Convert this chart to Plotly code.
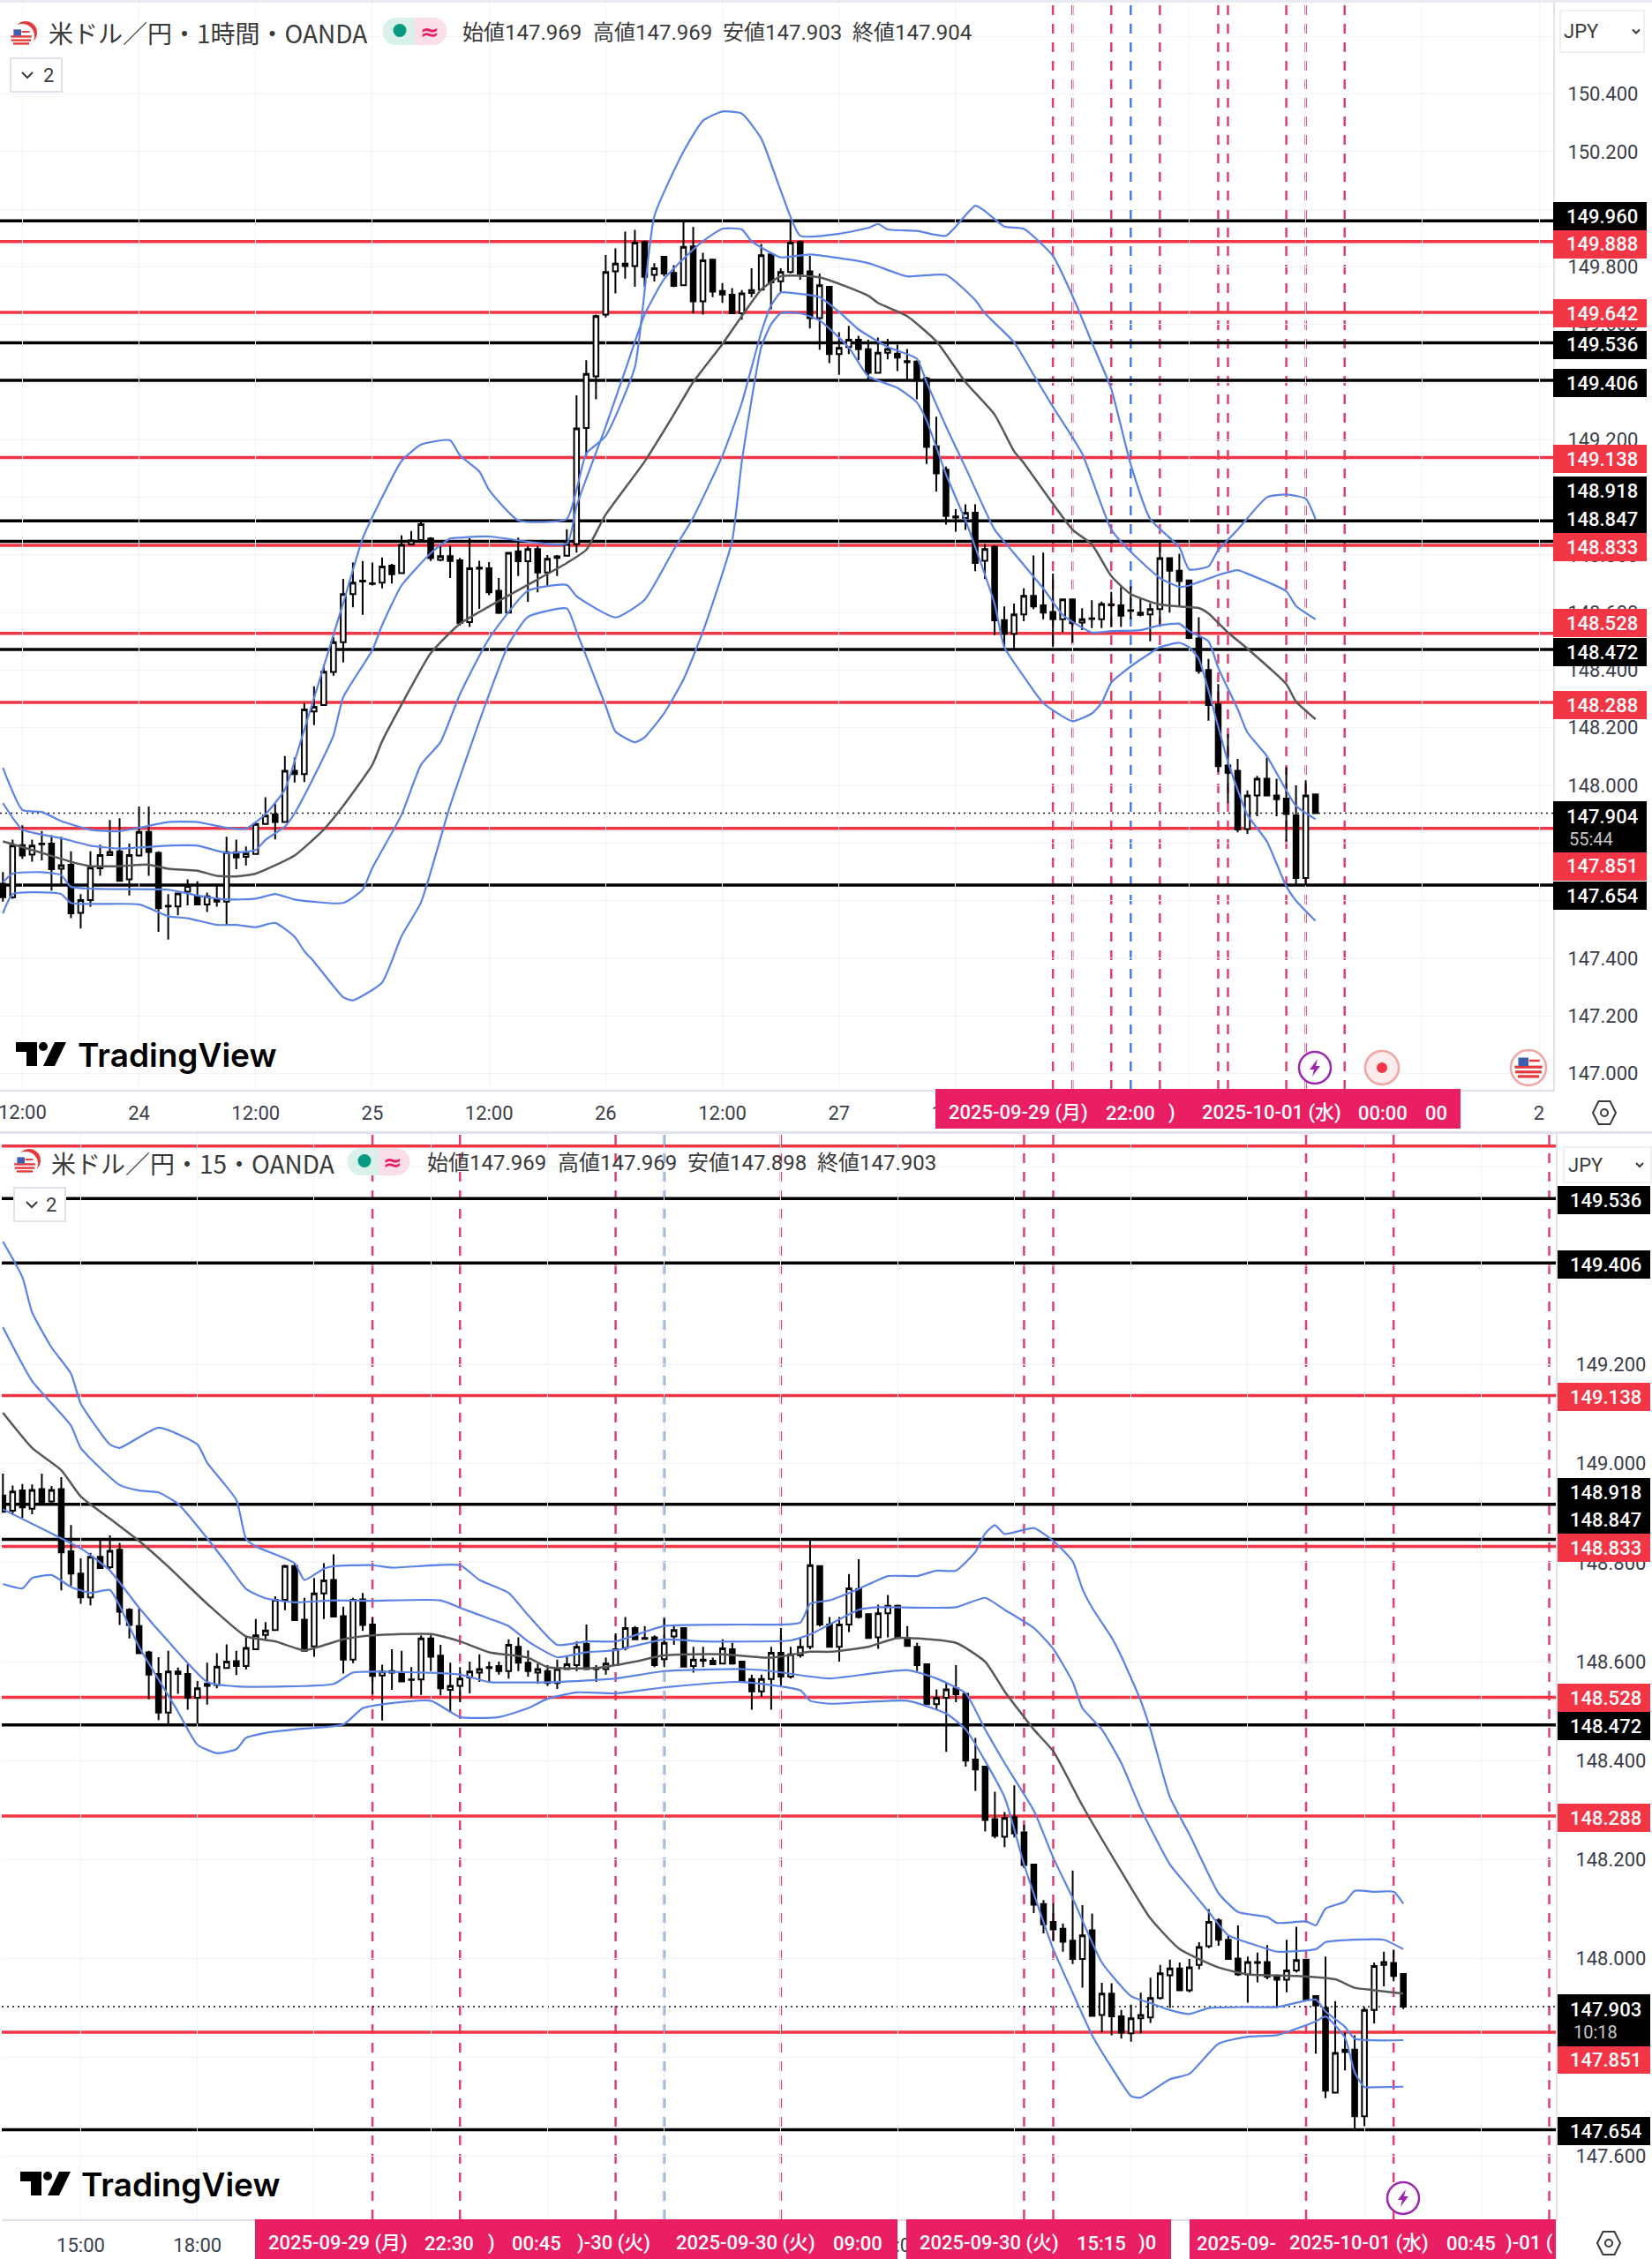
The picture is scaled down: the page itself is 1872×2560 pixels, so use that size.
import plotly.graph_objects as go
from plotly.subplots import make_subplots

# USD/JPY chart pair
W, H = 1872, 2560
FONT = "Roboto, 'Noto Sans CJK JP'"
CJK = "'Noto Sans CJK JP', Roboto"

# --- 1 hour candles
open_1h = [147.659,147.612,147.793,147.760,147.798,147.798,147.711,147.725,147.558,147.602,147.712,147.758,147.771,147.674,147.757,147.839,147.766,147.582,147.580,147.631,
           147.615,147.587,147.607,147.597,147.768,147.752,147.762,147.866,147.900,147.873,148.051,148.039,148.257,148.279,148.394,148.497,148.664,148.711,148.702,148.704,
           148.763,148.737,148.837,148.852,148.857,148.783,148.796,148.781,148.567,148.756,148.754,148.676,148.600,148.813,148.778,148.820,148.739,148.795,148.797,148.838,
           149.241,149.420,149.634,149.784,149.811,149.803,149.886,149.772,149.835,149.779,149.736,149.871,149.680,149.825,149.716,149.703,149.639,149.709,149.721,149.843,
           149.750,149.782,149.886,149.784,149.622,149.731,149.497,149.522,149.547,149.514,149.432,149.502,149.499,149.473,149.471,149.413,149.177,149.096,148.934,148.928,
           148.947,148.780,148.828,148.574,148.526,148.594,148.658,148.625,148.602,148.577,148.646,148.565,148.580,148.577,148.629,148.625,148.608,148.600,148.594,148.612,
           148.789,148.745,148.712,148.510,148.401,148.281,148.069,148.051,147.849,147.965,148.023,147.965,147.954,147.896,147.679,147.969]
high_1h = [147.699,147.812,147.862,147.812,147.842,147.827,147.822,147.771,147.623,147.771,147.794,147.880,147.886,147.798,147.927,147.927,147.771,147.623,147.628,147.674,
           147.667,147.628,147.658,147.822,147.812,147.788,147.868,147.959,147.936,148.102,148.097,148.286,148.344,148.419,148.515,148.717,148.774,148.779,148.774,148.791,
           148.769,148.868,148.883,148.915,148.862,148.837,148.832,148.790,148.858,148.780,148.775,148.720,148.810,148.860,148.830,148.830,148.800,148.800,148.889,149.354,
           149.476,149.634,149.841,149.864,149.922,149.928,149.891,149.813,149.836,149.806,149.959,149.938,149.849,149.828,149.744,149.726,149.719,149.795,149.879,149.846,
           149.795,149.956,149.891,149.838,149.777,149.731,149.573,149.595,149.561,149.547,149.555,149.550,149.530,149.515,149.476,149.418,149.280,149.107,148.959,148.976,
           148.976,148.838,148.833,148.621,148.631,148.684,148.798,148.808,148.735,148.648,148.648,148.615,148.643,148.638,148.672,148.689,148.691,148.648,148.633,148.842,
           148.791,148.804,148.715,148.584,148.439,148.352,148.179,148.092,147.983,148.033,148.097,148.023,148.063,148.000,148.018,147.969]
low_1h = [147.597,147.607,147.745,147.735,147.740,147.635,147.653,147.539,147.503,147.579,147.686,147.758,147.667,147.618,147.753,147.686,147.492,147.465,147.549,147.584,
          147.584,147.561,147.579,147.516,147.709,147.722,147.760,147.866,147.813,147.873,148.010,148.012,148.209,148.279,148.381,148.427,148.618,148.592,148.694,148.684,
          148.701,148.737,148.837,148.850,148.779,148.778,148.720,148.555,148.550,148.613,148.660,148.595,148.600,148.727,148.637,148.670,148.690,148.727,148.797,148.808,
          149.144,149.340,149.624,149.708,149.759,149.731,149.731,149.749,149.767,149.729,149.736,149.639,149.634,149.695,149.675,149.639,149.617,149.695,149.721,149.653,
          149.713,149.777,149.755,149.586,149.512,149.466,149.425,149.497,149.476,149.405,149.432,149.479,149.438,149.405,149.340,149.116,149.020,148.905,148.881,148.887,
          148.744,148.716,148.522,148.472,148.470,148.570,148.612,148.577,148.480,148.531,148.495,148.539,148.546,148.546,148.549,148.550,148.577,148.587,148.500,148.551,
          148.600,148.623,148.508,148.388,148.225,148.046,147.939,147.837,147.832,147.893,147.965,147.893,147.806,147.653,147.653,147.903]
close_1h = [147.612,147.791,147.757,147.791,147.796,147.709,147.723,147.556,147.602,147.715,147.758,147.769,147.669,147.758,147.839,147.769,147.574,147.580,147.625,147.651,
            147.587,147.615,147.597,147.768,147.750,147.764,147.866,147.895,147.873,148.051,148.039,148.264,148.273,148.395,148.497,148.664,148.704,148.708,148.699,148.760,
            148.733,148.835,148.850,148.907,148.789,148.796,148.779,148.564,148.754,148.752,148.670,148.599,148.807,148.778,148.820,148.739,148.787,148.790,148.838,149.239,
            149.428,149.629,149.782,149.811,149.803,149.884,149.765,149.795,149.777,149.734,149.869,149.680,149.823,149.714,149.704,149.639,149.708,149.719,149.840,149.746,
            149.782,149.884,149.777,149.622,149.736,149.497,149.519,149.547,149.514,149.432,149.502,149.515,149.485,149.469,149.405,149.175,149.083,148.935,148.930,148.946,
            148.772,148.820,148.573,148.526,148.594,148.658,148.621,148.600,148.577,148.646,148.563,148.577,148.578,148.630,148.625,148.589,148.606,148.592,148.612,148.789,
            148.745,148.709,148.512,148.398,148.279,148.067,148.044,147.847,147.965,148.023,147.965,147.952,147.901,147.679,147.965,147.904]

# --- 1 hour bollinger lines (bar number, price)
sma_1h_bar = [0,4,7,9,12,15,17,20,22,24,26,30,33,35,38,39,41,44,47,58,60,62,66,69,71,74,76,78,80,84,89,90,93,96,99,102,104,105,110,112,114,116,119,121,123,124,126,128,132,133,135]
sma_1h = [147.806,147.766,147.735,147.720,147.720,147.725,147.711,147.704,147.686,147.684,147.694,147.757,147.847,147.929,148.072,148.153,148.281,148.459,148.561,148.772,148.818,148.940,149.124,149.287,149.400,149.532,149.629,149.721,149.767,149.764,149.700,149.675,149.629,149.542,149.400,149.287,149.160,149.119,148.888,148.837,148.727,148.664,148.628,148.621,148.616,148.597,148.531,148.475,148.352,148.291,148.230]
up2_1h_bar = [0,2,6,9,12,17,20,23,26,27,29,30,32,34,35,38,39,41,44,46,47,50,58,59,62,64,66,68,70,72,74,76,77,80,83,89,93,97,100,101,104,106,108,111,114,116,119,121,122,125,127,128,132,133,135]
up2_1h = [147.939,147.847,147.817,147.791,147.781,147.791,147.791,147.766,147.776,147.811,147.857,147.903,148.031,148.174,148.306,148.470,148.556,148.694,148.806,148.857,148.860,148.864,148.840,148.971,149.246,149.440,149.634,149.757,149.828,149.889,149.932,149.930,149.889,149.833,149.843,149.813,149.767,149.772,149.685,149.639,149.538,149.426,149.314,149.152,148.888,148.811,148.720,148.689,148.694,148.730,148.747,148.735,148.674,148.623,148.577]
up3_1h_bar = [0,2,4,6,9,12,14,17,20,23,25,27,29,31,35,37,39,41,43,46,47,49,50,53,58,59,60,62,65,67,70,72,74,76,78,80,82,86,89,90,91,94,97,100,101,103,105,108,110,112,114,116,118,121,122,124,125,127,130,132,134,135]
up3_1h = [148.061,147.915,147.908,147.876,147.846,147.841,147.853,147.873,147.873,147.853,147.850,147.900,147.986,148.194,148.633,148.857,149.000,149.126,149.183,149.198,149.146,149.090,149.026,148.920,148.925,149.026,149.152,149.213,149.452,149.976,150.200,150.307,150.339,150.332,150.245,150.065,149.908,149.915,149.935,149.949,149.930,149.925,149.908,150.012,149.994,149.940,149.932,149.838,149.700,149.538,149.376,149.114,148.925,148.827,148.750,148.760,148.817,148.888,149.000,149.010,148.995,148.925]
dn2_1h_bar = [0,1,4,6,7,17,20,23,26,28,30,35,37,38,41,43,45,47,50,54,58,59,63,66,69,71,74,76,78,79,80,82,84,86,88,91,94,95,97,99,102,104,107,109,112,114,117,119,121,122,124,125,127,128,130,133,135]
dn2_1h = [147.664,147.694,147.699,147.689,147.648,147.638,147.618,147.604,147.607,147.623,147.604,147.592,147.638,147.714,147.898,148.072,148.150,148.316,148.510,148.676,148.696,148.657,148.583,148.644,148.818,148.930,149.144,149.328,149.573,149.665,149.711,149.706,149.695,149.644,149.583,149.522,149.481,149.400,149.246,149.104,148.888,148.806,148.684,148.592,148.531,148.536,148.539,148.556,148.561,148.536,148.500,148.408,148.265,148.184,148.102,147.929,147.883]
dn3_1h_bar = [0,1,5,6,7,14,17,19,22,24,26,28,30,31,32,35,36,39,41,43,46,50,52,54,58,59,62,63,65,66,68,70,72,75,76,78,79,80,82,84,87,89,92,94,95,97,99,100,102,103,105,107,110,112,113,114,116,118,119,121,122,123,125,126,128,130,132,133,135]
dn3_1h = [147.556,147.623,147.628,147.623,147.592,147.587,147.546,147.539,147.516,147.516,147.508,147.523,147.475,147.425,147.388,147.265,147.254,147.316,147.477,147.594,147.930,148.316,148.489,148.585,148.614,148.534,148.276,148.187,148.150,148.167,148.250,148.368,148.534,148.848,149.124,149.522,149.600,149.639,149.639,149.614,149.520,149.420,149.380,149.330,149.267,149.080,148.920,148.828,148.630,148.480,148.378,148.286,148.223,148.250,148.286,148.357,148.413,148.459,148.480,148.495,148.480,148.440,148.204,148.082,147.898,147.806,147.650,147.600,147.530]

# --- 15 minute candles
open_15m = [148.936,148.905,148.946,148.909,148.949,148.924,148.949,148.823,148.778,148.730,148.812,148.791,148.826,148.705,148.672,148.619,148.575,148.497,148.580,148.575,
            148.527,148.551,148.553,148.587,148.601,148.591,148.625,148.654,148.664,148.725,148.793,148.685,148.631,148.738,148.765,148.692,148.604,148.726,148.675,148.572,
            148.581,148.578,148.564,148.564,148.647,148.612,148.543,148.551,148.568,148.578,148.589,148.591,148.581,148.630,148.598,148.578,148.581,148.557,148.585,148.593,
            148.636,148.587,148.585,148.593,148.628,148.668,148.648,148.649,148.605,148.651,148.668,148.591,148.604,148.602,148.596,148.625,148.600,148.565,148.540,148.565,
            148.618,148.570,148.613,148.630,148.793,148.675,148.630,148.675,148.747,148.696,148.649,148.698,148.713,148.648,148.630,148.595,148.514,148.527,148.546,148.535,
            148.402,148.388,148.282,148.246,148.286,148.255,148.190,148.110,148.074,148.060,148.036,147.999,148.057,147.886,147.929,147.883,147.849,147.879,147.881,147.920,
            147.966,147.980,147.936,147.987,148.025,148.077,148.038,148.000,147.968,147.993,147.993,147.965,147.957,147.976,147.998,147.924,147.900,147.729,147.816,147.816,
            147.681,147.896,147.987,147.991,147.969]
high_15m = [148.980,148.956,148.959,148.958,148.980,148.955,148.973,148.876,148.809,148.820,148.845,148.855,148.840,148.708,148.707,148.622,148.609,148.622,148.588,148.595,
            148.561,148.598,148.617,148.635,148.622,148.652,148.686,148.680,148.732,148.796,148.799,148.729,148.769,148.799,148.817,148.711,148.729,148.739,148.689,148.594,
            148.625,148.622,148.589,148.653,148.653,148.634,148.598,148.589,148.600,148.615,148.600,148.600,148.645,148.649,148.623,148.596,148.593,148.604,148.611,148.641,
            148.675,148.593,148.608,148.657,148.690,148.672,148.672,148.653,148.688,148.675,148.668,148.630,148.630,148.608,148.645,148.638,148.600,148.574,148.574,148.630,
            148.668,148.630,148.649,148.844,148.795,148.690,148.690,148.777,148.807,148.696,148.715,148.735,148.715,148.672,148.638,148.595,148.544,148.559,148.593,148.536,
            148.446,148.389,148.337,148.296,148.350,148.270,148.191,148.118,148.111,148.071,148.178,148.108,148.091,147.951,147.950,147.896,147.907,147.931,147.961,147.987,
            147.998,147.992,147.999,148.033,148.100,148.081,148.047,148.067,148.004,148.012,148.027,147.968,148.038,148.064,147.999,147.925,148.004,147.914,147.850,147.845,
            147.902,147.992,148.014,148.018,147.969]
low_15m = [148.903,148.897,148.891,148.898,148.918,148.919,148.744,148.753,148.717,148.714,148.789,148.787,148.674,148.647,148.617,148.524,148.482,148.475,148.535,148.503,
           148.475,148.513,148.546,148.587,148.573,148.584,148.625,148.642,148.664,148.704,148.684,148.620,148.610,148.686,148.691,148.576,148.597,148.662,148.534,148.481,
           148.543,148.560,148.528,148.533,148.581,148.532,148.497,148.518,148.536,148.559,148.559,148.574,148.566,148.581,148.570,148.555,148.551,148.545,148.585,148.581,
           148.585,148.559,148.574,148.593,148.623,148.645,148.646,148.589,148.589,148.634,148.590,148.578,148.589,148.593,148.596,148.594,148.559,148.503,148.529,148.503,
           148.551,148.566,148.608,148.625,148.671,148.630,148.600,148.660,148.687,148.648,148.626,148.649,148.648,148.630,148.581,148.514,148.503,148.418,148.518,148.388,
           148.339,148.257,148.243,148.225,148.245,148.183,148.092,148.051,148.036,148.014,147.989,147.941,147.884,147.851,147.845,147.838,147.832,147.849,147.870,147.917,
           147.900,147.934,147.932,147.978,148.021,148.026,147.999,147.965,147.911,147.952,147.958,147.900,147.932,147.972,147.916,147.808,147.718,147.729,147.774,147.654,
           147.661,147.869,147.944,147.954,147.898]
close_15m = [148.903,148.944,148.912,148.947,148.919,148.947,148.821,148.778,148.730,148.812,148.789,148.824,148.701,148.674,148.617,148.574,148.497,148.580,148.575,148.527,
             148.546,148.555,148.590,148.600,148.591,148.628,148.653,148.663,148.725,148.793,148.684,148.622,148.738,148.764,148.691,148.604,148.725,148.674,148.571,148.580,
             148.578,148.560,148.563,148.647,148.610,148.546,148.551,148.566,148.580,148.585,148.587,148.581,148.634,148.598,148.581,148.585,148.557,148.585,148.595,148.630,
             148.585,148.585,148.596,148.625,148.668,148.645,148.646,148.593,148.638,148.664,148.590,148.604,148.602,148.595,148.627,148.596,148.559,148.540,148.565,148.618,
             148.570,148.615,148.630,148.795,148.675,148.630,148.675,148.748,148.690,148.648,148.698,148.713,148.648,148.632,148.593,148.514,148.527,148.544,148.534,148.400,
             148.382,148.280,148.248,148.284,148.253,148.189,148.109,148.069,148.059,148.034,147.999,148.047,147.884,147.929,147.883,147.850,147.879,147.886,147.920,147.970,
             147.980,147.936,147.982,148.023,148.074,148.038,147.999,147.968,147.993,147.991,147.963,147.957,147.976,147.997,147.917,147.905,147.733,147.809,147.811,147.681,
             147.896,147.985,147.993,147.965,147.903]

# --- 15 minute bollinger lines
sma_15m_bar = [0,3,6,8,11,14,17,21,25,28,31,35,38,44,47,50,54,56,61,65,68,74,79,83,85,89,92,98,101,103,106,108,111,115,118,121,125,128,133,137,139,141,144]
sma_15m = [149.103,149.032,148.987,148.934,148.889,148.844,148.792,148.717,148.651,148.641,148.623,148.645,148.653,148.656,148.641,148.619,148.608,148.589,148.587,148.600,148.613,148.615,148.608,148.620,148.620,148.630,148.648,148.638,148.600,148.540,148.463,148.419,148.309,148.176,148.081,148.019,147.982,147.968,147.965,147.958,147.941,147.936,147.929]
up2_15m_bar = [0,3,7,8,12,14,16,18,20,23,25,27,30,34,38,45,47,50,52,54,57,60,63,68,72,81,83,85,88,90,98,101,103,106,108,110,111,113,115,117,120,122,124,126,129,131,135,136,139,142,144]
up2_15m = [149.276,149.167,149.077,149.032,148.957,148.946,148.942,148.919,148.874,148.799,148.747,148.728,148.720,148.724,148.723,148.724,148.709,148.687,148.672,148.641,148.609,148.619,148.623,148.645,148.641,148.643,148.655,148.675,148.705,148.710,148.710,148.729,148.705,148.668,148.626,148.559,148.506,148.463,148.395,148.303,148.190,148.142,148.094,148.047,148.026,148.014,148.019,148.033,148.038,148.038,148.019]
up3_15m_bar = [0,2,3,5,7,8,11,12,16,20,21,24,25,26,30,31,33,34,38,40,47,49,52,54,57,60,63,68,76,82,83,85,88,91,94,96,98,100,101,102,103,106,108,110,111,112,114,115,117,118,120,122,125,127,130,131,134,135,136,138,139,141,143,144]
up3_15m = [149.449,149.377,149.306,149.235,149.182,149.122,149.039,149.032,149.073,149.039,149.002,148.927,148.848,148.833,148.799,148.765,148.788,148.793,148.795,148.790,148.795,148.765,148.739,148.694,148.634,148.641,148.641,148.672,148.675,148.679,148.717,148.724,148.747,148.773,148.773,148.784,148.784,148.822,148.859,148.876,148.858,148.870,148.844,148.803,148.747,148.709,148.649,148.611,148.521,148.463,148.326,148.251,148.132,148.094,148.084,148.072,148.075,148.067,148.101,148.115,148.137,148.135,148.135,148.111]
dn2_15m_bar = [0,5,8,11,14,17,21,24,34,36,43,47,50,57,63,68,76,79,83,85,93,96,99,101,103,106,108,110,113,116,118,120,122,124,128,131,135,136,138,139,144]
dn2_15m = [148.908,148.859,148.829,148.784,148.709,148.641,148.559,148.550,148.555,148.578,148.578,148.574,148.559,148.559,148.566,148.581,148.585,148.581,148.570,148.566,148.583,148.566,148.536,148.463,148.395,148.299,148.204,148.122,147.992,147.924,147.910,147.896,147.888,147.900,147.902,147.902,147.917,147.893,147.862,147.838,147.835]
dn3_15m_bar = [0,2,3,5,7,9,11,12,14,18,19,20,22,24,25,27,30,35,37,39,44,47,51,54,56,59,63,68,76,82,83,85,93,97,99,103,105,108,110,112,114,116,117,120,122,125,128,131,135,136,138,139,140,141,144]
dn3_15m = [148.757,148.748,148.769,148.775,148.751,148.739,148.745,148.713,148.630,148.499,148.463,148.432,148.415,148.423,148.446,148.456,148.463,148.473,148.506,148.514,148.521,148.488,148.488,148.506,148.525,148.538,148.536,148.548,148.559,148.542,148.521,148.515,148.521,148.495,148.463,148.326,148.190,148.019,147.931,147.845,147.780,147.722,147.719,147.756,147.767,147.828,147.842,147.845,147.873,147.883,147.840,147.770,147.740,147.740,147.741]

# --- horizontal levels and vertical time marks
black_levels = [149.960, 149.536, 149.406, 148.918, 148.847, 148.472, 147.654]
red_levels = [149.888, 149.642, 149.138, 148.833, 148.528, 148.288, 147.851]
last_1h, last_15m = 147.904, 147.903
red_marks_1h = [108, 110, 114, 119, 125, 126, 132, 134, 138]
blue_marks_1h = [116]
red_marks_15m = [38, 47, 63, 80, 105, 108, 134, 143, 159]
blue_marks_15m = [68]

# --- axis ticks, labels the price tags or boxes fully cover stay empty
price_ticks_1h = [150.6, 150.4, 150.2, 150.0, 149.8, 149.6, 149.4, 149.2, 149.0, 148.8, 148.6, 148.4, 148.2, 148.0, 147.8, 147.6, 147.4, 147.2, 147.0]
price_labels_1h = ["", "150.400", "150.200", "", "149.800", "149.600", "", "149.200", "", "148.800", "148.600", "148.400", "148.200", "148.000", "", "", "147.400", "147.200", "147.000"]
price_ticks_15m = [149.6, 149.4, 149.2, 149.0, 148.8, 148.6, 148.4, 148.2, 148.0, 147.8, 147.6]
price_labels_15m = ["", "", "149.200", "149.000", "148.800", "148.600", "148.400", "148.200", "148.000", "", "147.600"]
time_ticks_1h = [2, 14, 26, 38, 50, 62, 74, 86, 98, 110, 122, 134, 146, 158]
time_labels_1h = ["", "24", "12:00", "25", "12:00", "26", "12:00", "27", "12:00", "", "", "", "", "2"]
time_ticks_15m = [8, 20, 32, 44, 56, 68, 80, 92, 104, 116, 128, 140, 152]
time_labels_15m = ["15:00", "18:00", "", "", "", "", "", "12:00", "", "", "", "", ""]

RED = "#f23645"
PINK = "#e91e63"
BLUE = "#5b82e6"
GRID = "#f0f3fa"
EDGE = "#e0e3eb"
TXT = "#3a3e4a"

fig = make_subplots(rows=2, cols=1)


def xp(x):
    return x / W


def yp(y):
    return 1 - y / H


def pt(x, y):
    return f"{xp(x):.5f},{yp(y):.5f}"


def box(x0, y0, x1, y1, fill, line=None, lw=1):
    fig.add_shape(type="rect", xref="paper", yref="paper", x0=xp(x0), x1=xp(x1), y0=yp(y0), y1=yp(y1),
                  fillcolor=fill, line=dict(color=line or fill, width=lw if line else 0), layer="above")


def circle(cx, cy, rx, fill, line=None, lw=1):
    fig.add_shape(type="circle", xref="paper", yref="paper", x0=xp(cx - rx), x1=xp(cx + rx), y0=yp(cy + rx), y1=yp(cy - rx),
                  fillcolor=fill, line=dict(color=line or fill, width=lw if line else 0), layer="above")


def poly(points, fill=None, line=None, lw=1, closed=True):
    path = "M" + " L".join(pt(x, y) for x, y in points) + (" Z" if closed else "")
    fig.add_shape(type="path", xref="paper", yref="paper", path=path,
                  fillcolor=fill or "rgba(0,0,0,0)", line=dict(color=line or "rgba(0,0,0,0)", width=lw), layer="above")


def label(text, x, y, size=22, color=TXT, anchor="center", family=FONT, weight=None):
    font = dict(size=size, color=color, family=family)
    if weight:
        font["weight"] = weight
    fig.add_annotation(text=text, xref="paper", yref="paper", x=xp(x), y=yp(y), xanchor=anchor, yanchor="middle",
                       showarrow=False, font=font)


def add_candles(row, opens, highs, lows, closes):
    fig.add_trace(go.Candlestick(x=list(range(len(opens))), open=opens, high=highs, low=lows, close=closes, whiskerwidth=0,
                                 increasing=dict(line=dict(color="#000000", width=2), fillcolor="#ffffff"),
                                 decreasing=dict(line=dict(color="#000000", width=2), fillcolor="#000000"),
                                 showlegend=False), row=row, col=1)


def add_lines(row, lines):
    for xs, ys, color, width in lines:
        fig.add_trace(go.Scatter(x=xs, y=ys, mode="lines", line=dict(color=color, width=width, shape="spline", smoothing=0.5),
                                 showlegend=False, hoverinfo="skip"), row=row, col=1)


# bollinger lines go under the candles
add_lines(1, [(up3_1h_bar, up3_1h, BLUE, 2.2), (up2_1h_bar, up2_1h, BLUE, 2.2), (dn2_1h_bar, dn2_1h, BLUE, 2.2),
              (dn3_1h_bar, dn3_1h, BLUE, 2.2), (sma_1h_bar, sma_1h, "#585858", 2.5)])
add_candles(1, open_1h, high_1h, low_1h, close_1h)
add_lines(2, [(up3_15m_bar, up3_15m, BLUE, 2.2), (up2_15m_bar, up2_15m, BLUE, 2.2), (dn2_15m_bar, dn2_15m, BLUE, 2.2),
              (dn3_15m_bar, dn3_15m, BLUE, 2.2), (sma_15m_bar, sma_15m, "#585858", 2.5)])
add_candles(2, open_15m, high_15m, low_15m, close_15m)

# pixel layout of the two panes
Y_RANGE_1H = [146.9436, 150.7262]
Y_RANGE_15M = [147.473, 149.6702]
fig.update_layout(width=W, height=H, margin=dict(l=0, r=0, t=0, b=0), autosize=False, paper_bgcolor="#ffffff",
                  plot_bgcolor="#ffffff", showlegend=False, boxgap=0.28, hovermode=False,
                  font=dict(family=FONT, size=22, color=TXT))
axis_font = dict(family=FONT, size=22, color=TXT)
fig.update_xaxes(row=1, col=1, domain=[0, xp(1760)], range=[-0.3, 159.45], rangeslider_visible=False, tickmode="array",
                 tickvals=time_ticks_1h, ticktext=time_labels_1h, gridcolor=GRID, gridwidth=1, showline=True, linecolor=EDGE,
                 linewidth=2, ticks="outside", ticklen=6, tickcolor="rgba(0,0,0,0)", tickfont=axis_font, zeroline=False)
fig.update_yaxes(row=1, col=1, domain=[yp(1235), 1], range=Y_RANGE_1H, side="right", tickmode="array", tickvals=price_ticks_1h,
                 ticktext=price_labels_1h, gridcolor=GRID, gridwidth=1, showline=True, linecolor=EDGE,
                 linewidth=2, ticks="outside", ticklen=10, tickcolor="rgba(0,0,0,0)", tickfont=axis_font, zeroline=False)
fig.update_xaxes(row=2, col=1, domain=[xp(2), xp(1763)], range=[-0.12, 159.68], rangeslider_visible=False, tickmode="array",
                 tickvals=time_ticks_15m, ticktext=time_labels_15m, gridcolor=GRID, gridwidth=1, showline=True, linecolor=EDGE,
                 linewidth=2, ticks="outside", ticklen=9, tickcolor="rgba(0,0,0,0)", tickfont=axis_font, zeroline=False)
fig.update_yaxes(row=2, col=1, domain=[yp(2515), yp(1283)], range=Y_RANGE_15M, side="right", tickmode="array", tickvals=price_ticks_15m,
                 ticktext=price_labels_15m, gridcolor=GRID, gridwidth=1, showline=True, linecolor=EDGE,
                 linewidth=2, ticks="outside", ticklen=16, tickcolor="rgba(0,0,0,0)", tickfont=axis_font, zeroline=False)


def marks(row, red, blue):
    for bars, color in ((red, "#e0406e"), (blue, "#4a78e8")):
        for b in bars:
            fig.add_vline(x=b, line=dict(color=color, width=2.5, dash="11px,10px"), layer="below", row=row, col=1)


def levels(row, y_range, last):
    for values, color in ((black_levels, "#000000"), (red_levels, RED)):
        for v in values:
            if y_range[0] < v < y_range[1]:
                fig.add_hline(y=v, line=dict(color=color, width=3.5), layer="below", row=row, col=1)
    fig.add_hline(y=last, line=dict(color="#131722", width=1.5, dash="2px,4px"), layer="below", row=row, col=1)


marks(1, red_marks_1h, blue_marks_1h)
levels(1, Y_RANGE_1H, last_1h)
marks(2, red_marks_15m, blue_marks_15m)
levels(2, Y_RANGE_15M, last_15m)

# separators
box(0, 0, W, 3, "#e9ebf0")
box(0, 1282, W, 1285, EDGE)
label("12:00", 25, 1260, size=22)

# price tags, placed where the picture puts them (they spread apart when levels are close)
tags_1h = [("149.960", "#000000", 245), ("149.888", RED, 277), ("149.642", RED, 355), ("149.536", "#000000", 391),
           ("149.406", "#000000", 434), ("149.138", RED, 520), ("148.918", "#000000", 556), ("148.847", "#000000", 588),
           ("148.833", RED, 620), ("148.528", RED, 706), ("148.472", "#000000", 739), ("148.288", RED, 799),
           ("147.851", RED, 982), ("147.654", "#000000", 1015)]
tags_15m = [("149.536", "#000000", 1360), ("149.406", "#000000", 1433), ("149.138", RED, 1583), ("148.918", "#000000", 1691),
            ("148.847", "#000000", 1722), ("148.833", RED, 1754), ("148.528", RED, 1924), ("148.472", "#000000", 1956),
            ("148.288", RED, 2060), ("147.851", RED, 2334), ("147.654", "#000000", 2415)]
for text, color, y in tags_1h:
    box(1760, y - 16, 1866, y + 16, color)
    label(text, 1815, y, color="#ffffff", weight=500)
box(1760, 908, 1866, 966, "#000000")
label("147.904", 1815, 925, color="#ffffff", weight=500)
label("55:44", 1776, 951, size=20, color="#c8c8c8", anchor="left")
for text, color, y in tags_15m:
    box(1765, y - 16, 1870, y + 16, color)
    label(text, 1819, y, color="#ffffff", weight=500)
box(1765, 2260, 1870, 2319, "#000000")
label("147.903", 1819, 2277, color="#ffffff", weight=500)
label("10:18", 1781, 2303, size=20, color="#c8c8c8", anchor="left")

# pink time labels on the axes
box(1060, 1234, 1655, 1279, PINK)
for text, x in (("2025-09-29 (月)", 1154), ("22:00", 1281), (")", 1328), ("2025-10-01 (水)", 1441), ("00:00", 1567), ("00", 1627)):
    label(text, x, 1261, color="#ffffff", weight=500)
box(289, 2515, 1017, 2560, PINK)
box(1027, 2515, 1327, 2560, PINK)
box(1348, 2515, 1763, 2560, PINK)
for text, x in (("2025-09-29 (月)", 383), ("22:30", 509), (")", 557), ("00:45", 608), (")-30 (火)", 695), ("2025-09-30 (火)", 845),
                ("09:00", 972), ("2025-09-30 (火)", 1121), ("15:15", 1248), (")0", 1300), ("2025-09-", 1401),
                ("2025-10-01 (水)", 1540), ("00:45", 1667), (")-01 (", 1733)):
    label(text, x, 2542, color="#ffffff", weight=500)


def flag(cx, cy, r):
    circle(cx, cy, r, "#ffffff")
    for dy, half in ((-0.05, 0.98), (0.3, 0.93), (0.62, 0.76)):
        box(cx - half * r, cy + (dy - 0.1) * r, cx + half * r, cy + (dy + 0.1) * r, "#e5393a")
    box(cx + 0.05 * r, cy - 0.58 * r, cx + 0.8 * r, cy - 0.42 * r, "#e5393a")
    box(cx - 0.72 * r, cy - 0.72 * r, cx, cy - 0.12 * r, "#3f5fae")


def header(cx, cy, title, title_x, badge_x, values, top_y):
    # currency icon, status badge, title and ohlc values
    circle(cx + 5, cy - 4, 13, "#e5393a")
    circle(cx + 1, cy, 14, "#ffffff")
    flag(cx, cy + 1, 12)
    label(title, title_x, top_y, size=28, color="#3a3a3a", anchor="left", family=CJK)
    x0, x1 = badge_x
    y0, y1 = top_y - 17, top_y + 14
    mid = (x0 + x1) / 2
    circle(x0 + 16, (y0 + y1) / 2, 15.5, "#d9f1ea")
    circle(x1 - 16, (y0 + y1) / 2, 15.5, "#fbdfe8")
    box(x0 + 16, y0, mid, y1, "#d9f1ea")
    box(mid, y0, x1 - 16, y1, "#fbdfe8")
    circle(x0 + 20, (y0 + y1) / 2 - 1, 7.5, "#089981")
    label("≈", x1 - 20, (y0 + y1) / 2, size=26, color=PINK, family="'DejaVu Sans'", weight=700)
    for text, x in values:
        label(text, x, top_y, size=24, color="#3a3a3a", anchor="left", family=FONT)


header(24, 41, "米ドル／円・1時間・OANDA", 53, (433, 507),
       (("始値147.969", 522), ("高値147.969", 670), ("安値147.903", 817), ("終値147.904", 964)), 37)
header(28, 1319, "米ドル／円・15・OANDA", 56, (393, 465),
       (("始値147.969", 482), ("高値147.969", 630), ("安値147.898", 777), ("終値147.903", 924)), 1318)


def legend_box(x0, y0, x1, y1, chev_x, num_x):
    box(x0, y0, x1, y1, "#ffffff", EDGE, 2)
    cy = (y0 + y1) / 2
    poly([(chev_x - 6, cy - 3), (chev_x, cy + 3), (chev_x + 6, cy - 3)], line="#3a3a3a", lw=2, closed=False)
    label("2", num_x, cy, size=22, color="#3a3a3a")


legend_box(12, 66, 70, 104, 31, 55)
legend_box(16, 1346, 74, 1384, 36, 58)


def currency_box(x0, y0, x1, y1, text_x, chev_x):
    box(x0, y0, x1, y1, "#ffffff", "#eef0f4", 2)
    cy = (y0 + y1) / 2
    label("JPY", text_x, cy, size=22, color="#3a3a3a")
    poly([(chev_x - 4, cy - 2), (chev_x, cy + 2), (chev_x + 4, cy - 2)], line="#3a3a3a", lw=2, closed=False)


currency_box(1768, 12, 1863, 59, 1792, 1854)
currency_box(1772, 1300, 1871, 1340, 1797, 1858)


def logo(x0, y0, text_cy, text_x):
    # TradingView mark and word
    poly([(x0, y0), (x0 + 24, y0), (x0 + 24, y0 + 27), (x0 + 12, y0 + 27), (x0 + 12, y0 + 11), (x0, y0 + 11)], fill="#000000")
    circle(x0 + 31, y0 + 5, 5, "#000000")
    poly([(x0 + 44, y0), (x0 + 57, y0), (x0 + 44, y0 + 27), (x0 + 31, y0 + 27)], fill="#000000")
    label("TradingView", text_x, text_cy, size=37, color="#000000", anchor="left", family="Inter", weight=600)


logo(18, 1181, 1195, 86)
logo(23, 2461, 2475, 90)


def bolt(cx, cy, r):
    circle(cx, cy, r, "#ffffff", "#9c27b0", 2.5)
    s = r / 18
    poly([(cx + 3 * s, cy - 10 * s), (cx - 6 * s, cy + 2 * s), (cx - 1 * s, cy + 2 * s), (cx - 3 * s, cy + 10 * s),
          (cx + 6 * s, cy - 2 * s), (cx + 1 * s, cy - 2 * s)], fill="#9c27b0")


def gear(cx, cy):
    r = 13
    poly([(cx - r, cy), (cx - r / 2, cy - r), (cx + r / 2, cy - r), (cx + r, cy), (cx + r / 2, cy + r), (cx - r / 2, cy + r)],
         line="#3a3a3a", lw=2)
    circle(cx, cy, 4, "#ffffff", "#3a3a3a", 2)


bolt(1490, 1210, 18)
circle(1566, 1210, 19, "#fdecec", "#f4a3a3", 2.5)
circle(1566, 1210, 6, RED)
circle(1732, 1210, 20, "#ffffff", "#f4a3a3", 2.5)
flag(1732, 1210, 16)
gear(1818, 1261)
bolt(1590, 2491, 18)
gear(1823, 2542)

fig.write_html("out.html", config={"displayModeBar": False}, post_script="document.body.style.margin='0';")
